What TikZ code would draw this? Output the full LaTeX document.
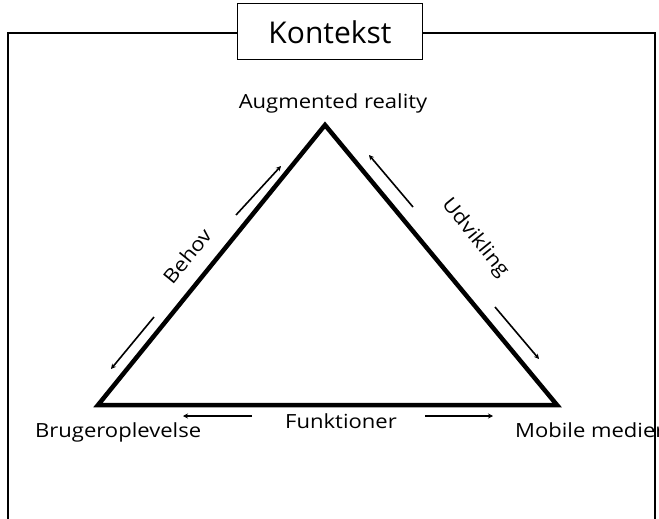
\documentclass[tikz,border=0pt]{standalone}
\usepackage{fontspec}
\setmainfont{Open Sans}
\usetikzlibrary{arrows.meta, positioning, calc}

% slightly widened lettering
\newcommand{\widetext}[1]{\scalebox{1.13}[1]{#1}}

\begin{document}
\begin{tikzpicture}[x=1pt, y=-1pt, font=\fontsize{19.5}{22}\selectfont,
  side/.style={line width=4.5pt, line join=miter},
  flow/.style={line width=1.6pt, -{Stealth[length=5pt, width=5pt]}}]

  \useasboundingbox (0,0) rectangle (659,519);

  % Triangle corners
  \coordinate (ar) at (325,125);
  \coordinate (br) at (98,405);
  \coordinate (mm) at (557,405);
  \draw[side] (ar) -- (mm) -- (br) -- cycle;

  % Corner labels
  \node[anchor=base, inner sep=0pt] (arlabel) at (333,109) {\widetext{Augmented reality}};
  \node[anchor=base west, inner sep=0pt] (brlabel) at (35,437) {\widetext{Brugeroplevelse}};
  \node[anchor=base west, inner sep=0pt] (mmlabel) at (515,437) {\widetext{Mobile medier}};

  % Side labels
  \node[rotate=51, inner sep=0pt] (behov) at (187,256) {\widetext{Behov}};
  \node[rotate=-51, inner sep=0pt] (udvikling) at (475,238) {\widetext{Udvikling}};
  \node[anchor=base, inner sep=0pt] (funktioner) at (341,428) {\widetext{Funktioner}};

  % Arrow ends
  \coordinate (b1) at (236,215);  \coordinate (b2) at (281,166);
  \coordinate (b3) at (154,317);  \coordinate (b4) at (111,369);
  \coordinate (u1) at (413,207);  \coordinate (u2) at (369,155);
  \coordinate (u3) at (495,307);  \coordinate (u4) at (539,359);
  \coordinate (f1) at (252,416);  \coordinate (f2) at (183,416);
  \coordinate (f3) at (425,416);  \coordinate (f4) at (493,416);

  % Flow arrows
  \draw[flow] (b1) -- (b2);
  \draw[flow] (b3) -- (b4);
  \draw[flow] (u1) -- (u2);
  \draw[flow] (u3) -- (u4);
  \draw[flow] (f1) -- (f2);
  \draw[flow] (f3) -- (f4);

  % Context frame (on top)
  \draw[line width=1.8pt] (8,560) -- (8,33) -- (655,33) -- (655,560);
  \node[draw, fill=white, line width=1pt, minimum width=185pt, minimum height=56pt,
        font=\fontsize{30}{34}\selectfont] (kontekst) at (330,32) {Kontekst};

\end{tikzpicture}
\end{document}
